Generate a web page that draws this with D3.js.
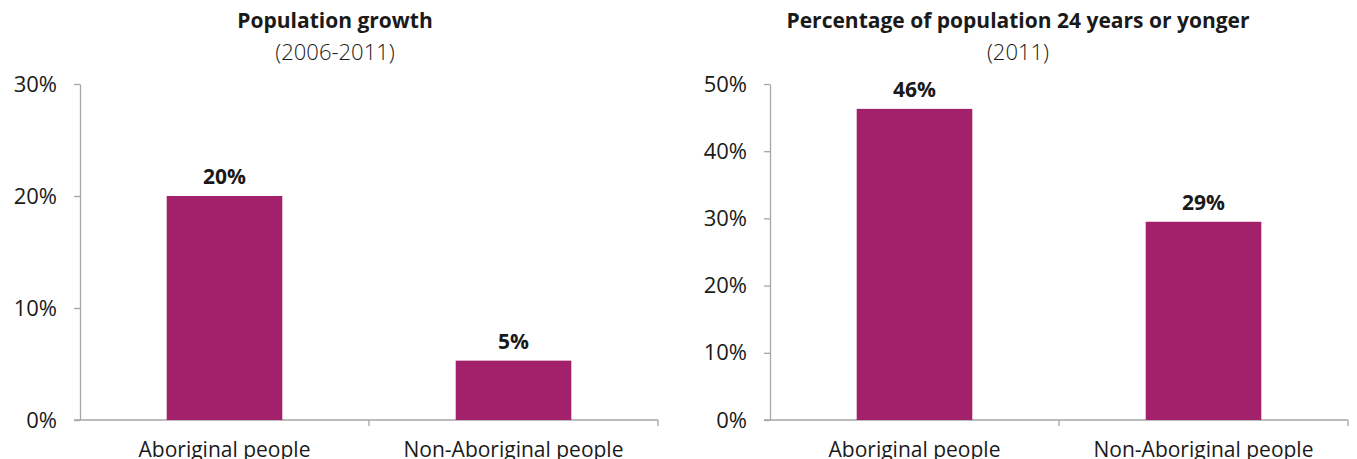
<!DOCTYPE html>
<html>
<head>
<meta charset="utf-8">
<script src="https://cdn.jsdelivr.net/npm/d3@7"></script>
<style>
  body { margin: 0; background: #fff; }
  text { font-family: "Open Sans", "Noto Sans", sans-serif; fill: #1a1a1a; }
</style>
</head>
<body>
<svg width="1357" height="459"></svg>
<script>
var categories = ["Aboriginal people", "Non-Aboriginal people"];
var growthValues = [20, 5.3];
var growthLabels = ["20%", "5%"];
var growthTicks = [0, 10, 20, 30];
var youngValues = [46.3, 29.5];
var youngLabels = ["46%", "29%"];
var youngTicks = [0, 10, 20, 30, 40, 50];

var svg = d3.select("svg");
var barColor = "#a3206a";
var axisGrey = "#a6a6a6";

// one panel = one small bar chart
function drawPanel(opt) {
    var g = svg.append("g");

    var x = d3.scaleBand()
        .domain(categories)
        .range([opt.left, opt.right])
        .paddingInner(0.6)
        .paddingOuter(0.3);

    var y = d3.scaleLinear()
        .domain([0, opt.max])
        .range([420, 84]);

    // y axis
    var yAxis = g.append("g")
        .attr("transform", "translate(" + opt.left + ",0)")
        .call(d3.axisLeft(y).tickValues(opt.ticks).tickSize(6).tickSizeOuter(0)
            .tickFormat(function (d) { return d + "%"; }));
    yAxis.select(".domain").attr("stroke", axisGrey).attr("stroke-width", 1.3);
    yAxis.selectAll(".tick line").attr("stroke", axisGrey).attr("stroke-width", 1.3);
    yAxis.selectAll(".tick text")
        .attr("x", -23)
        .style("font-size", "22px")
        .attr("fill", "#1a1a1a");

    // x axis line with separators between categories
    var xa = g.append("g");
    xa.append("line")
        .attr("x1", opt.left - 6).attr("x2", opt.right)
        .attr("y1", y(0)).attr("y2", y(0))
        .attr("stroke", axisGrey).attr("stroke-width", 1.3);
    var edges = d3.range(1, categories.length + 1).map(function (i) {
        return opt.left + (opt.right - opt.left) * i / categories.length;
    });
    xa.selectAll(".sep")
        .data(edges)
        .enter().append("line")
        .attr("x1", function (d) { return d; }).attr("x2", function (d) { return d; })
        .attr("y1", y(0)).attr("y2", y(0) + 6)
        .attr("stroke", axisGrey).attr("stroke-width", 1.3);

    xa.selectAll(".cat")
        .data(categories)
        .enter().append("text")
        .attr("x", function (d) { return x(d) + x.bandwidth() / 2; })
        .attr("y", 457)
        .attr("text-anchor", "middle")
        .style("font-size", "21px")
        .text(function (d) { return d; });

    // bars
    g.selectAll(".bar")
        .data(opt.values)
        .enter().append("rect")
        .attr("x", function (d, i) { return x(categories[i]); })
        .attr("width", x.bandwidth())
        .attr("y", function (d) { return y(d); })
        .attr("height", function (d) { return y(0) - y(d); })
        .attr("fill", barColor);

    g.selectAll(".lbl")
        .data(opt.values)
        .enter().append("text")
        .attr("x", function (d, i) { return x(categories[i]) + x.bandwidth() / 2; })
        .attr("y", function (d) { return y(d) - 12; })
        .attr("text-anchor", "middle")
        .style("font-size", "21px")
        .style("font-weight", "700")
        .attr("fill", "#000")
        .text(function (d, i) { return opt.labels[i]; });

    // titles
    g.append("text")
        .attr("x", opt.titleX).attr("y", 28)
        .attr("text-anchor", "middle")
        .style("font-size", "21px")
        .style("font-weight", "700")
        .text(opt.title);
    g.append("text")
        .attr("x", opt.titleX).attr("y", 60)
        .attr("text-anchor", "middle")
        .style("font-size", "22px")
        .style("font-weight", "300")
        .attr("fill", "#333")
        .text(opt.subtitle);
}

drawPanel({
    left: 80, right: 658, max: 30,
    ticks: growthTicks, values: growthValues, labels: growthLabels,
    title: "Population growth", subtitle: "(2006-2011)", titleX: 335
});

drawPanel({
    left: 770, right: 1348, max: 50,
    ticks: youngTicks, values: youngValues, labels: youngLabels,
    title: "Percentage of population 24 years or yonger", subtitle: "(2011)", titleX: 1018
});
</script>
</body>
</html>
